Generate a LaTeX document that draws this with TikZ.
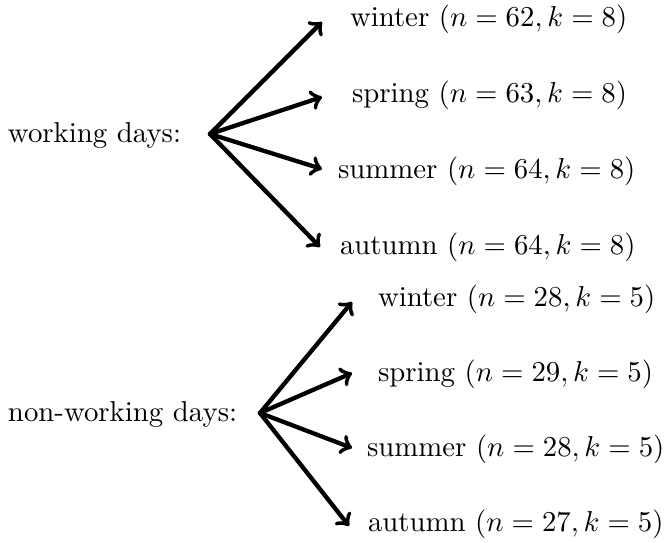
\documentclass[tikz,border=0pt]{standalone}
\begin{document}
\begin{tikzpicture}[x=0.3472pt,y=-0.3472pt,
  lbl/.style={anchor=base west,inner sep=0pt,outer sep=0pt},
  arr/.style={->,line width=1.5pt,line cap=round}]
\useasboundingbox (0,0) rectangle (666,543);
% working days
\node[lbl] (wd) at (8,143) {working days:};
\coordinate (hw) at (210,134);
\node[lbl] (w1) at (350,27) {winter~($n=62, k=8$)};
\node[lbl] (s1) at (352,103) {spring~($n=63, k=8$)};
\node[lbl] (u1) at (338,179) {summer~($n=64, k=8$)};
\node[lbl] (a1) at (340,255) {autumn~($n=64, k=8$)};
\coordinate (tw1) at (322,22);
\coordinate (ts1) at (322,97);
\coordinate (tu1) at (322,169);
\coordinate (ta1) at (320,247);
\draw[arr] (hw) -- (tw1);
\draw[arr] (hw) -- (ts1);
\draw[arr] (hw) -- (tu1);
\draw[arr] (hw) -- (ta1);
% non-working days
\node[lbl] (nd) at (8,422) {non-working days:};
\coordinate (hn) at (260,413);
\node[lbl] (w2) at (378,307) {winter~($n=28, k=5$)};
\node[lbl] (s2) at (378,382) {spring~($n=29, k=5$)};
\node[lbl] (u2) at (367,457) {summer~($n=28, k=5$)};
\node[lbl] (a2) at (368,532) {autumn~($n=27, k=5$)};
\coordinate (tw2) at (352,302);
\coordinate (ts2) at (352,373);
\coordinate (tu2) at (352,448);
\coordinate (ta2) at (349,526);
\draw[arr] (hn) -- (tw2);
\draw[arr] (hn) -- (ts2);
\draw[arr] (hn) -- (tu2);
\draw[arr] (hn) -- (ta2);
\end{tikzpicture}
\end{document}
